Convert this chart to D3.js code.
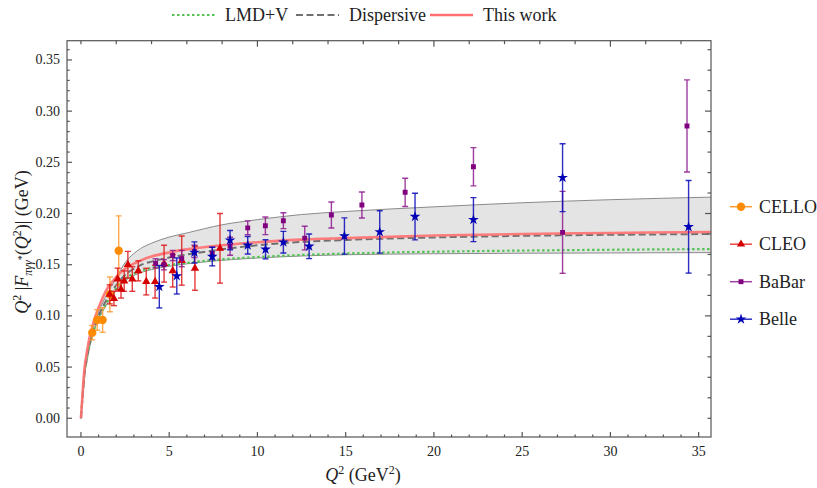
<!DOCTYPE html>
<html>
<head>
<meta charset="UTF-8">
<script src="https://cdn.jsdelivr.net/npm/d3@7"></script>
</head>
<body style="margin:0">
<svg id="chart" width="817" height="488" font-family="Liberation Serif"></svg>
<script>
    // theory curves on a common Q^2 grid
    var qGrid      = [0, 0.1, 0.2, 0.35, 0.5, 0.75, 1, 1.5, 2, 2.5, 3, 3.5, 4, 5, 6, 8, 10, 12.5, 15, 20, 25, 30, 35.7];
    var thisWork   = [0, 0.026, 0.048, 0.066, 0.080, 0.096, 0.108, 0.127, 0.138, 0.146, 0.151, 0.155, 0.158, 0.162, 0.165, 0.169, 0.172, 0.1745, 0.176, 0.1785, 0.180, 0.181, 0.182];
    var dispersive = [0, 0.023, 0.043, 0.060, 0.073, 0.088, 0.100, 0.117, 0.130, 0.140, 0.146, 0.1505, 0.153, 0.157, 0.160, 0.165, 0.169, 0.1722, 0.1742, 0.1766, 0.1782, 0.1792, 0.180];
    var lmdv       = [0, 0.023, 0.043, 0.059, 0.072, 0.087, 0.098, 0.114, 0.127, 0.136, 0.1415, 0.1445, 0.1468, 0.1497, 0.1518, 0.1552, 0.1575, 0.1595, 0.1609, 0.1627, 0.1638, 0.1646, 0.1653];
    var bandUpper  = [0, 0.024, 0.045, 0.062, 0.076, 0.092, 0.104, 0.122, 0.137, 0.152, 0.161, 0.167, 0.171, 0.177, 0.181, 0.189, 0.194, 0.199, 0.202, 0.2065, 0.2105, 0.2135, 0.216];
    var bandLower  = [0, 0.022, 0.042, 0.058, 0.071, 0.086, 0.097, 0.112, 0.125, 0.134, 0.1395, 0.1428, 0.1452, 0.1485, 0.1508, 0.1543, 0.1565, 0.1585, 0.1597, 0.1607, 0.1612, 0.1615, 0.1618];

    // experiments: Q^2, value, error
    var qCello = [0.64, 0.92, 1.23, 1.64, 2.14];
    var vCello = [0.0836, 0.096, 0.096, 0.121, 0.1637];
    var eCello = [0.007, 0.010, 0.012, 0.017, 0.034];

    var qCleo = [1.63, 1.87, 2.08, 2.27, 2.45, 2.66, 2.91, 3.25, 3.70, 4.20, 4.71, 5.20, 5.71, 6.46, 7.88];
    var vCleo = [0.121, 0.117, 0.136, 0.126, 0.134, 0.150, 0.136, 0.144, 0.1335, 0.1334, 0.151, 0.144, 0.154, 0.1465, 0.166];
    var eCleo = [0.0093, 0.007, 0.0106, 0.0086, 0.010, 0.013, 0.012, 0.0098, 0.013, 0.016, 0.018, 0.0158, 0.024, 0.0215, 0.034];

    var qBabar = [4.23, 4.70, 5.20, 5.71, 6.43, 7.44, 8.45, 9.45, 10.45, 11.47, 12.68, 14.19, 15.92, 18.37, 22.24, 27.29, 34.34];
    var vBabar = [0.1514, 0.150, 0.159, 0.156, 0.163, 0.161, 0.168, 0.186, 0.188, 0.193, 0.176, 0.1985, 0.2083, 0.2207, 0.2457, 0.1816, 0.2855];
    var eBabar = [0.0044, 0.005, 0.005, 0.008, 0.006, 0.006, 0.0088, 0.0068, 0.0086, 0.0078, 0.0115, 0.0127, 0.0127, 0.0138, 0.0187, 0.040, 0.045];

    var qBelle = [4.44, 5.43, 6.43, 7.44, 8.45, 9.45, 10.46, 11.47, 12.93, 14.93, 16.93, 18.93, 22.24, 27.29, 34.43];
    var vBelle = [0.1285, 0.139, 0.162, 0.158, 0.174, 0.169, 0.165, 0.172, 0.168, 0.178, 0.182, 0.197, 0.194, 0.235, 0.187];
    var eBelle = [0.0207, 0.0176, 0.0103, 0.0091, 0.0094, 0.0085, 0.0093, 0.0106, 0.012, 0.0177, 0.0207, 0.0228, 0.0215, 0.0332, 0.0452];

    var xTicks = [0, 5, 10, 15, 20, 25, 30, 35];
    var yTicks = [0, 0.05, 0.10, 0.15, 0.20, 0.25, 0.30, 0.35];

    /* ----------------- frame ----------------- */
    var pL = 67, pR = 711, pT = 40.7, pB = 437;
    var ink = "#222";
    var serif = "Liberation Serif";
    var svg = d3.select("#chart");

    var x = d3.scaleLinear().domain([-0.79, 35.7]).range([pL, pR]);
    var y = d3.scaleLinear().domain([-0.0183, 0.3688]).range([pB, pT]);

    svg.append("defs").append("clipPath").attr("id", "plotClip")
        .append("rect")
        .attr("x", pL).attr("y", pT)
        .attr("width", pR - pL).attr("height", pB - pT);

    var plot = svg.append("g").attr("clip-path", "url(#plotClip)");

    // band
    var band = qGrid.map(function (q, i) { return {q: q, hi: bandUpper[i], lo: bandLower[i]}; });
    plot.append("path")
        .datum(band)
        .attr("fill", "#e4e4e4")
        .attr("d", d3.area().curve(d3.curveMonotoneX)
            .x(function (d) { return x(d.q); })
            .y0(function (d) { return y(d.lo); })
            .y1(function (d) { return y(d.hi); }));

    function curve(values, color, width, dash, opacity) {
        var pts = qGrid.map(function (q, i) { return [q, values[i]]; });
        return plot.append("path")
            .datum(pts)
            .attr("fill", "none")
            .attr("stroke", color)
            .attr("stroke-width", width)
            .attr("stroke-dasharray", dash)
            .attr("stroke-opacity", opacity)
            .attr("d", d3.line().curve(d3.curveMonotoneX)
                .x(function (d) { return x(d[0]); })
                .y(function (d) { return y(d[1]); }));
    }

    curve(bandUpper, "#8a8a8a", 1, null, 1);
    curve(bandLower, "#8a8a8a", 1, null, 1);
    curve(lmdv, "#55c455", 2.2, "2.5,2.5", 1);
    curve(dispersive, "#707070", 2, "7,3.5", 1);
    curve(thisWork, "#ff6f6f", 2.6, null, 0.9);

    /* ----------------- data points ----------------- */
    function series(qs, vs, es, color, barColor, symbol, size) {
        var g = plot.append("g");
        var pts = qs.map(function (q, i) { return {q: q, v: vs[i], e: es[i]}; });
        var bars = g.selectAll("g.bar").data(pts).enter().append("g")
            .attr("stroke", barColor).attr("stroke-width", 1.4).attr("stroke-opacity", 0.85);
        bars.append("line")
            .attr("x1", function (d) { return x(d.q); })
            .attr("x2", function (d) { return x(d.q); })
            .attr("y1", function (d) { return y(d.v - d.e); })
            .attr("y2", function (d) { return y(d.v + d.e); });
        [-1, 1].forEach(function (s) {
            bars.append("line")
                .attr("x1", function (d) { return x(d.q) - 3; })
                .attr("x2", function (d) { return x(d.q) + 3; })
                .attr("y1", function (d) { return y(d.v + s * d.e); })
                .attr("y2", function (d) { return y(d.v + s * d.e); });
        });
        g.selectAll("path.mk").data(pts).enter().append("path")
            .attr("transform", function (d) { return "translate(" + x(d.q) + "," + y(d.v) + ")"; })
            .attr("d", d3.symbol().type(symbol).size(size))
            .attr("fill", color);
    }

    series(qCello, vCello, eCello, "#ff8c00", "#ff9a2e", d3.symbolCircle, 55);
    series(qCleo, vCleo, eCleo, "#d40000", "#dd1a1a", d3.symbolTriangle, 30);
    series(qBabar, vBabar, eBabar, "#800080", "#8e1a8e", d3.symbolSquare, 24);
    series(qBelle, vBelle, eBelle, "#0000b4", "#0a0ab8", d3.symbolStar, 36);

    /* ----------------- axes ----------------- */
    var frame = svg.append("g").attr("stroke", "#555").attr("stroke-width", 1.2);
    frame.append("rect")
        .attr("x", pL).attr("y", pT)
        .attr("width", pR - pL).attr("height", pB - pT)
        .attr("fill", "none");

    // bottom
    d3.range(0, 36, 1).forEach(function (v) {
        var major = v % 5 === 0;
        frame.append("line")
            .attr("x1", x(v)).attr("x2", x(v))
            .attr("y1", pB).attr("y2", pB - (major ? 5 : 2.5));
    });
    // top
    d3.range(0, 36, 2).forEach(function (v) {
        var major = v % 10 === 0 && v > 0;
        frame.append("line")
            .attr("x1", x(v)).attr("x2", x(v))
            .attr("y1", pT).attr("y2", pT + (major ? 6 : 3.5));
    });
    // left
    d3.range(0, 37, 1).forEach(function (k) {
        var v = k / 100;
        var major = k % 5 === 0;
        frame.append("line")
            .attr("x1", pL).attr("x2", pL + (major ? 5 : 2.7))
            .attr("y1", y(v)).attr("y2", y(v));
    });
    // right
    d3.range(0, 37, 2).forEach(function (k) {
        var v = k / 100;
        var major = k % 10 === 0 && k > 0;
        frame.append("line")
            .attr("x1", pR).attr("x2", pR - (major ? 6 : 3.5))
            .attr("y1", y(v)).attr("y2", y(v));
    });

    svg.selectAll("text.xt").data(xTicks).enter().append("text")
        .attr("x", function (d) { return x(d); })
        .attr("y", 456)
        .attr("text-anchor", "middle")
        .attr("font-size", 14)
        .attr("fill", ink)
        .text(function (d) { return d; });

    svg.selectAll("text.yt").data(yTicks).enter().append("text")
        .attr("x", 60)
        .attr("y", function (d) { return y(d) + 4.5; })
        .attr("text-anchor", "end")
        .attr("font-size", 14)
        .attr("fill", ink)
        .text(function (d) { return d3.format(".2f")(d); });

    // axis titles
    var xl = svg.append("text").attr("x", 363).attr("y", 481)
        .attr("text-anchor", "middle").attr("font-size", 18).attr("fill", ink);
    xl.append("tspan").attr("font-style", "italic").text("Q");
    xl.append("tspan").attr("font-size", 12).attr("dy", -7).text("2");
    xl.append("tspan").attr("dy", 7).text(" (GeV");
    xl.append("tspan").attr("font-size", 12).attr("dy", -7).text("2");
    xl.append("tspan").attr("dy", 7).text(")");

    var yl = svg.append("text")
        .attr("transform", "translate(28,242) rotate(-90)")
        .attr("text-anchor", "middle").attr("font-size", 18).attr("fill", ink);
    yl.append("tspan").attr("font-style", "italic").text("Q");
    yl.append("tspan").attr("font-size", 12).attr("dy", -7).text("2");
    yl.append("tspan").attr("dy", 7).text(" |");
    yl.append("tspan").attr("font-style", "italic").text("F");
    yl.append("tspan").attr("font-style", "italic").attr("font-size", 12).attr("dy", 4).text("πγγ");
    yl.append("tspan").attr("font-size", 10).attr("dy", -7).text("*");
    yl.append("tspan").attr("dy", 3).text("(");
    yl.append("tspan").attr("font-style", "italic").text("Q");
    yl.append("tspan").attr("font-size", 12).attr("dy", -7).text("2");
    yl.append("tspan").attr("dy", 7).text(")| (GeV)");

    /* ----------------- legends ----------------- */
    var topLegend = [
        {name: "LMD+V", color: "#55c455", width: 2.2, dash: "2.5,2.5", x: 172},
        {name: "Dispersive", color: "#707070", width: 2, dash: "7,3.5", x: 296},
        {name: "This work", color: "#ff6f6f", width: 2.6, dash: null, x: 430}
    ];
    topLegend.forEach(function (d) {
        svg.append("line")
            .attr("x1", d.x).attr("x2", d.x + 43)
            .attr("y1", 15).attr("y2", 15)
            .attr("stroke", d.color).attr("stroke-width", d.width)
            .attr("stroke-dasharray", d.dash);
        svg.append("text")
            .attr("x", d.x + 53).attr("y", 20.5)
            .attr("font-size", 18)
            .attr("fill", ink)
            .text(d.name);
    });

    var sideLegend = [
        {name: "CELLO", color: "#ff8c00", bar: "#ff9a2e", symbol: d3.symbolCircle, size: 55},
        {name: "CLEO", color: "#d40000", bar: "#ee4444", symbol: d3.symbolTriangle, size: 30},
        {name: "BaBar", color: "#800080", bar: "#a040a0", symbol: d3.symbolSquare, size: 24},
        {name: "Belle", color: "#0000b4", bar: "#3030c8", symbol: d3.symbolStar, size: 36}
    ];
    sideLegend.forEach(function (d, i) {
        var cy = 206.7 + i * 37.5;
        svg.append("line")
            .attr("x1", 730).attr("x2", 752)
            .attr("y1", cy).attr("y2", cy)
            .attr("stroke", d.bar).attr("stroke-width", 1.5);
        svg.append("path")
            .attr("transform", "translate(741," + cy + ")")
            .attr("d", d3.symbol().type(d.symbol).size(d.size))
            .attr("fill", d.color);
        svg.append("text")
            .attr("x", 759).attr("y", cy + 6)
            .attr("font-size", 18)
            .attr("fill", ink)
            .text(d.name);
    });

    // serif face on every text node
    svg.selectAll("text")
        .attr("font-family", serif)
        .style("font-family", "'" + serif + "'");
</script>
</body>
</html>
